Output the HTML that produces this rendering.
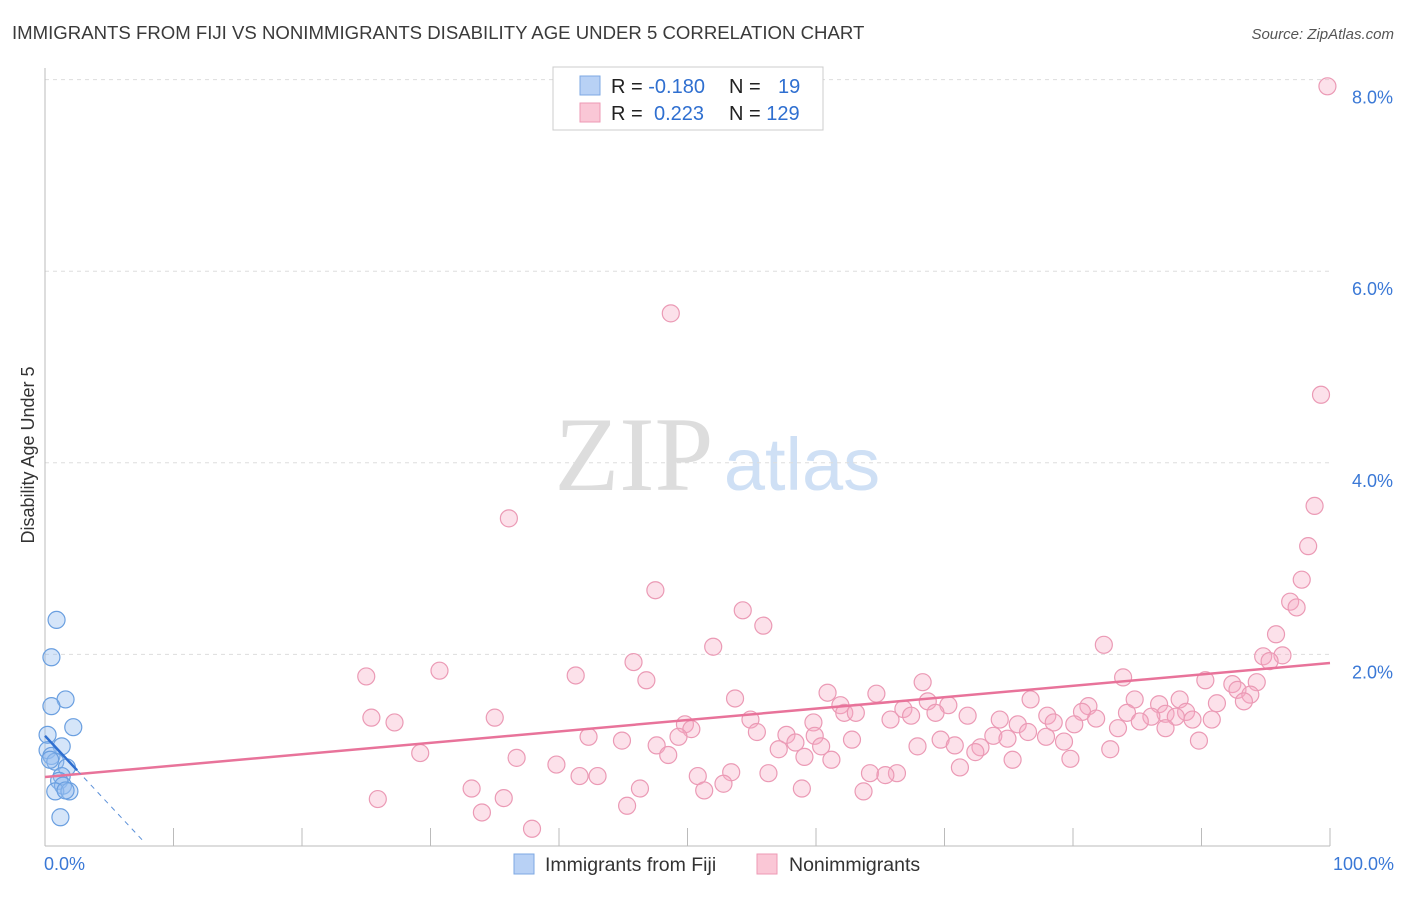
<!DOCTYPE html>
<html><head><meta charset="utf-8"><style>
body{margin:0;background:#fff;font-family:"Liberation Sans",sans-serif}
svg text{font-family:"Liberation Sans",sans-serif}
</style></head><body>
<svg id="c" width="1406" height="892" viewBox="0 0 1406 892">
<text x="12" y="39" font-size="18.6" fill="#3a3a3a">IMMIGRANTS FROM FIJI VS NONIMMIGRANTS DISABILITY AGE UNDER 5 CORRELATION CHART</text>
<text x="1394" y="39" font-size="15" fill="#555" text-anchor="end" font-style="italic">Source: ZipAtlas.com</text>
<text x="34" y="455" font-size="18" fill="#333" text-anchor="middle" transform="rotate(-90 34 455)">Disability Age Under 5</text>
<g>
<text x="634" y="490" font-size="106" fill="#ddd" text-anchor="middle" style="font-family:'Liberation Serif',serif">ZIP</text>
<text x="802" y="490" font-size="74" fill="#cfe0f5" text-anchor="middle">atlas</text>
</g>
<g id="grid"></g><g id="axes"></g><g id="lines"></g><g id="pts"></g>
<g>
<rect x="553" y="67" width="270" height="63" fill="#fff" stroke="#ccc"/>
<rect x="580" y="76" width="20" height="19" fill="#b8d1f5" stroke="#7ea8e3"/>
<rect x="580" y="103" width="20" height="19" fill="#fac7d6" stroke="#ee9ab4"/>
<text x="611" y="93" font-size="20" fill="#222">R = <tspan fill="#2f6fd0">-0.180</tspan></text>
<text x="729" y="93" font-size="20" fill="#222">N = <tspan fill="#2f6fd0" x="778">19</tspan></text>
<text x="611" y="120" font-size="20" fill="#222">R = <tspan fill="#2f6fd0" x="654">0.223</tspan></text>
<text x="729" y="120" font-size="20" fill="#222">N = <tspan fill="#2f6fd0">129</tspan></text>
</g>
<g>
<rect x="514" y="854" width="20" height="20" fill="#b8d1f5" stroke="#7ea8e3"/>
<text x="545" y="871" font-size="19.5" fill="#333">Immigrants from Fiji</text>
<rect x="757" y="854" width="20" height="20" fill="#fac7d6" stroke="#ee9ab4"/>
<text x="789" y="871" font-size="19.5" fill="#333">Nonimmigrants</text>
</g>
</svg>
<script>
const xTicks=[0,10,20,30,40,50,60,70,80,90,100];
const yTicks=[2,4,6,8];
const fijiX=[0.9,0.5,1.6,0.5,2.2,0.2,1.3,0.2,0.5,0.8,1.7,1.3,1.1,1.4,0.8,1.9,1.6,1.2,0.4];
const fijiY=[2.36,1.97,1.53,1.46,1.24,1.16,1.04,1.0,0.94,0.88,0.82,0.73,0.68,0.63,0.57,0.57,0.58,0.30,0.9];
const nonX=[99.8,48.7,99.3,36.1,98.8,98.3,97.8,47.5,96.9,97.4,54.3,55.9,95.8,52,82.4,94.8,96.3,95.3,45.8,30.7,25,41.3,46.8,68.3,83.9,90.3,92.4,94.3,92.8,93.8,93.3,60.9,64.7,53.7,76.7,84.8,88.3,91.2,68.7,86.7,61.9,70.3,81.2,66.8,80.7,88.8,62.2,63.1,69.3,84.2,87.2,78,88,71.8,81.8,86.1,25.4,35,27.2,54.9,59.8,65.8,67.4,74.3,78.5,85.2,89.3,90.8,49.8,50.3,80.1,75.7,83.5,87.2,55.4,76.5,42.3,57.7,59.9,49.3,77.9,73.8,74.9,62.8,69.7,44.9,58.4,79.3,89.8,47.6,60.4,67.9,70.8,72.8,82.9,57.1,72.4,29.2,48.5,36.7,59.1,61.2,75.3,79.8,39.8,71.2,53.4,56.3,64.2,66.3,65.4,41.6,43,50.8,52.8,33.2,46.3,51.3,58.9,63.7,25.9,35.7,45.3,34,37.9];
const nonY=[7.93,5.56,4.71,3.42,3.55,3.13,2.78,2.67,2.55,2.49,2.46,2.30,2.21,2.08,2.10,1.98,1.99,1.93,1.92,1.83,1.77,1.78,1.73,1.71,1.76,1.73,1.69,1.71,1.63,1.58,1.51,1.60,1.59,1.54,1.53,1.53,1.53,1.49,1.51,1.48,1.47,1.47,1.46,1.43,1.40,1.40,1.39,1.39,1.39,1.39,1.38,1.36,1.35,1.36,1.33,1.35,1.34,1.34,1.29,1.32,1.29,1.32,1.36,1.32,1.29,1.30,1.32,1.32,1.27,1.22,1.27,1.27,1.23,1.23,1.19,1.19,1.14,1.16,1.15,1.14,1.14,1.15,1.12,1.11,1.11,1.10,1.08,1.09,1.10,1.05,1.04,1.04,1.05,1.03,1.01,1.01,0.98,0.97,0.95,0.92,0.93,0.90,0.90,0.91,0.85,0.82,0.77,0.76,0.76,0.76,0.74,0.73,0.73,0.73,0.65,0.60,0.60,0.58,0.60,0.57,0.49,0.50,0.42,0.35,0.18];
const fijiTrend=[[0,1.15],[2.5,0.79]];
const fijiDash=[[2.5,0.79],[7.8,0.03]];
const nonTrend=[[0,0.72],[100,1.91]];
const X=v=>45+v*12.85, Y=v=>846-v*95.8;
const NS='http://www.w3.org/2000/svg';
function mk(t,a,p){const e=document.createElementNS(NS,t);for(const k in a)e.setAttribute(k,a[k]);document.getElementById(p).appendChild(e);return e;}
yTicks.forEach(t=>{
 const l=mk('line',{x1:45,x2:1330,y1:Y(t),y2:Y(t),stroke:'#ddd','stroke-dasharray':'4,4'},'grid');
 
 
 const tx=mk('text',{x:1393,y:Y(t)+24,'font-size':18,fill:'#3a78d6','text-anchor':'end'},'axes');
 tx.textContent=t.toFixed(1)+'%';
 
 
});
mk('line',{x1:45,x2:45,y1:68,y2:846,stroke:'#bbb'},'axes');
mk('line',{x1:45,x2:1330,y1:846,y2:846,stroke:'#bbb'},'axes');
xTicks.forEach(t=>{
 const l=mk('line',{x1:X(t),x2:X(t),y1:828,y2:846,stroke:'#bbb'},'axes');
 
 
});
[[0,'0.0%','start',44],[100,'100.0%','end',1394]].forEach(d=>{
 const tx=mk('text',{x:d[3],y:870,'font-size':18,fill:'#3a78d6','text-anchor':d[2]},'axes');
 tx.textContent=d[1];
 
 
});
nonX.forEach((v,i)=>{
 const c=mk('circle',{cx:X(v),cy:Y(nonY[i]),r:8.5,fill:'rgba(247,170,196,0.35)',stroke:'#eb9ab5','stroke-width':1.2},'pts');
 
 
});
fijiX.forEach((v,i)=>{
 const c=mk('circle',{cx:X(v),cy:Y(fijiY[i]),r:8.5,fill:'rgba(150,190,240,0.4)',stroke:'#6a9fe0','stroke-width':1.2},'pts');
 
 
});
let l1=mk('line',{x1:X(nonTrend[0][0]),y1:Y(nonTrend[0][1]),x2:X(nonTrend[1][0]),y2:Y(nonTrend[1][1]),stroke:'#e8739a','stroke-width':2.5},'pts');


let l2=mk('line',{x1:X(fijiTrend[0][0]),y1:Y(fijiTrend[0][1]),x2:X(fijiTrend[1][0]),y2:Y(fijiTrend[1][1]),stroke:'#2f6fd0','stroke-width':2.5},'pts');


let l3=mk('line',{x1:X(fijiDash[0][0]),y1:Y(fijiDash[0][1]),x2:X(fijiDash[1][0]),y2:Y(fijiDash[1][1]),stroke:'#5a8fd8','stroke-width':1,'stroke-dasharray':'5,5'},'pts');


</script>
</body></html>
